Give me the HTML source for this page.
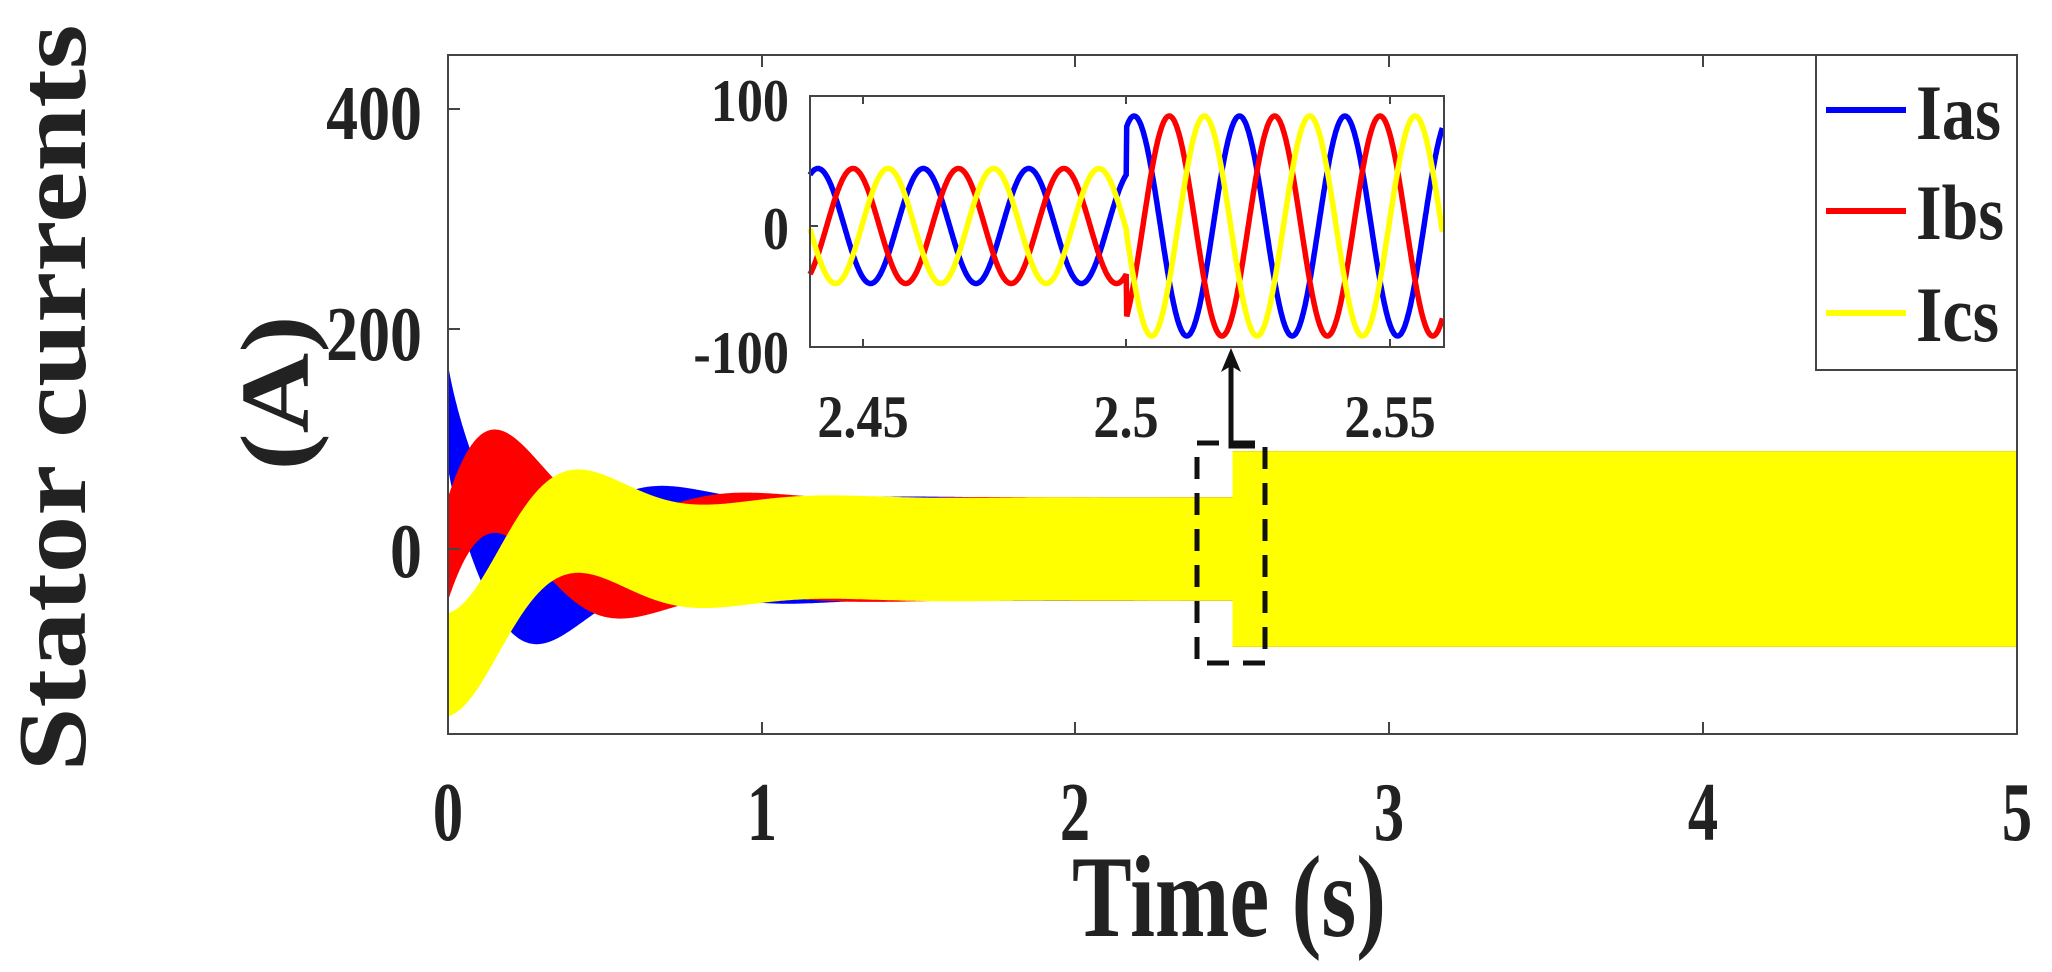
<!DOCTYPE html>
<html><head><meta charset="utf-8"><style>
html,body{margin:0;padding:0;background:#fff;}
svg{display:block;}
text{font-family:"Liberation Serif",serif;font-weight:bold;fill:#222;}
</style></head><body>
<svg id="s" width="2052" height="972" viewBox="0 0 2052 972" xmlns="http://www.w3.org/2000/svg">
<rect width="2052" height="972" fill="#fff"/>
<g id="bands"></g>
<rect x="448" y="55" width="1569" height="679" fill="none" stroke="#444" stroke-width="2"/>
<g stroke="#444" stroke-width="2">
<line x1="762" y1="734" x2="762" y2="722"/><line x1="1075" y1="734" x2="1075" y2="722"/>
<line x1="1389" y1="734" x2="1389" y2="722"/><line x1="1703" y1="734" x2="1703" y2="722"/>
<line x1="762" y1="55" x2="762" y2="67"/><line x1="1075" y1="55" x2="1075" y2="67"/>
<line x1="1389" y1="55" x2="1389" y2="67"/><line x1="1703" y1="55" x2="1703" y2="67"/>
<line x1="448" y1="109" x2="460" y2="109"/><line x1="448" y1="329" x2="460" y2="329"/><line x1="448" y1="549" x2="460" y2="549"/>
</g>
<rect x="1197" y="443" width="68" height="220" fill="none" stroke="#111" stroke-width="5" stroke-dasharray="22,14"/>
<path d="M1255 446 L1231 446 L1231 362" fill="none" stroke="#111" stroke-width="5"/>
<path d="M1231 348 L1221 372 L1231 366 L1241 372 Z" fill="#111"/>
<rect x="810" y="96" width="634" height="251" fill="#fff"/>
<g id="inset"></g>
<rect x="810" y="96" width="634" height="251" fill="none" stroke="#444" stroke-width="2"/>
<g stroke="#444" stroke-width="2">
<line x1="863" y1="347" x2="863" y2="339"/><line x1="1126" y1="347" x2="1126" y2="339"/><line x1="1390" y1="347" x2="1390" y2="339"/>
<line x1="863" y1="96" x2="863" y2="104"/><line x1="1126" y1="96" x2="1126" y2="104"/><line x1="1390" y1="96" x2="1390" y2="104"/>
<line x1="810" y1="226" x2="818" y2="226"/>
</g>
<g font-size="60">
<text transform="translate(789,121) scale(0.87,1)" text-anchor="end">100</text>
<text transform="translate(789,249) scale(0.87,1)" text-anchor="end">0</text>
<text transform="translate(789,373) scale(0.87,1)" text-anchor="end">-100</text>
<text transform="translate(863,437) scale(0.87,1)" text-anchor="middle">2.45</text>
<text transform="translate(1126,437) scale(0.87,1)" text-anchor="middle">2.5</text>
<text transform="translate(1390,437) scale(0.87,1)" text-anchor="middle">2.55</text>
</g>
<g font-size="77">
<text transform="translate(422,139) scale(0.83,1)" text-anchor="end">400</text>
<text transform="translate(422,360) scale(0.83,1)" text-anchor="end">200</text>
<text transform="translate(422,577) scale(0.83,1)" text-anchor="end">0</text>
</g>
<g font-size="84">
<text transform="translate(448,840) scale(0.72,1)" text-anchor="middle">0</text>
<text transform="translate(762,840) scale(0.72,1)" text-anchor="middle">1</text>
<text transform="translate(1075,840) scale(0.72,1)" text-anchor="middle">2</text>
<text transform="translate(1389,840) scale(0.72,1)" text-anchor="middle">3</text>
<text transform="translate(1703,840) scale(0.72,1)" text-anchor="middle">4</text>
<text transform="translate(2017,840) scale(0.72,1)" text-anchor="middle">5</text>
</g>
<text x="1072" y="936" font-size="117" textLength="314" lengthAdjust="spacingAndGlyphs">Time (s)</text>
<text transform="translate(85,398) rotate(-90)" font-size="98" text-anchor="middle" textLength="747" lengthAdjust="spacingAndGlyphs">Stator currents</text>
<text transform="translate(308,393) rotate(-90)" font-size="98" text-anchor="middle" textLength="155" lengthAdjust="spacingAndGlyphs">(A)</text>
<rect x="1816" y="55" width="201" height="315" fill="#fff" stroke="#444" stroke-width="2"/>
<line x1="1826" y1="110" x2="1906" y2="110" stroke="#0000ff" stroke-width="6"/>
<line x1="1826" y1="211" x2="1906" y2="211" stroke="#ff0000" stroke-width="6"/>
<line x1="1826" y1="313" x2="1906" y2="313" stroke="#ffff00" stroke-width="6"/>
<g font-size="78" fill="#111">
<text x="1916" y="139" textLength="85" lengthAdjust="spacingAndGlyphs">Ias</text>
<text x="1916" y="239" textLength="88" lengthAdjust="spacingAndGlyphs">Ibs</text>
<text x="1916" y="341" textLength="83" lengthAdjust="spacingAndGlyphs">Ics</text>
</g>
</svg>
<script>
(function(){
var NS="http://www.w3.org/2000/svg";
function X(t){return 448+t*313.8;}
function Y(v){return 549-v*1.1;}
var R=110,T=0.8,tau=0.3,ph=[30,-90,150],cols=["#0000ff","#ff0000","#ffff00"];
var g=document.getElementById("bands");
for(var k=0;k<3;k++){
  var up=[],lo=[];
  for(var i=0;i<=2500;i++){
    var t=i*0.002;
    var c=R*Math.exp(-t/tau)*Math.cos(2*Math.PI*t/T+ph[k]*Math.PI/180);
    if(k==0)c+=25*Math.exp(-t/0.03);
    if(k==2)c-=10*Math.exp(-t/0.05);
    var a=t<2.5?47:89;
    if(i>0&&Math.abs(t-2.5)<1e-9){
      up.push([X(t),Y(c+47)]);lo.push([X(t),Y(c-47)]);
    }
    up.push([X(t),Y(c+a)]);lo.push([X(t),Y(c-a)]);
  }
  if(k==2){up[0]=[X(0),Y(0)];}
  var d="M"+up.map(function(p){return p[0].toFixed(1)+" "+p[1].toFixed(1);}).join(" L");
  d+=" L"+lo.reverse().map(function(p){return p[0].toFixed(1)+" "+p[1].toFixed(1);}).join(" L")+" Z";
  var p=document.createElementNS(NS,"path");p.setAttribute("d",d);p.setAttribute("fill",cols[k]);g.appendChild(p);
}
var gi=document.getElementById("inset");
function IX(t){return 810+(t-2.4399)/0.05*263.5;}
function IY(v){return 226-v*1.25;}
var tb=2.4614,w=2*Math.PI*50;
for(var k=0;k<3;k++){
  var pts=[];
  for(var i=0;i<=1200;i++){
    var t=2.4399+i*0.0001;
    if(t>2.5603)break;
    var a=t<2.5?46:88;
    var v=a*Math.cos(w*(t-tb)-k*2*Math.PI/3);
    pts.push(IX(t).toFixed(1)+" "+IY(v).toFixed(1));
  }
  var p=document.createElementNS(NS,"path");
  p.setAttribute("d","M"+pts.join(" L"));p.setAttribute("fill","none");
  p.setAttribute("stroke",cols[k]);p.setAttribute("stroke-width","5.5");
  gi.appendChild(p);
}
})();
</script>
</body></html>
